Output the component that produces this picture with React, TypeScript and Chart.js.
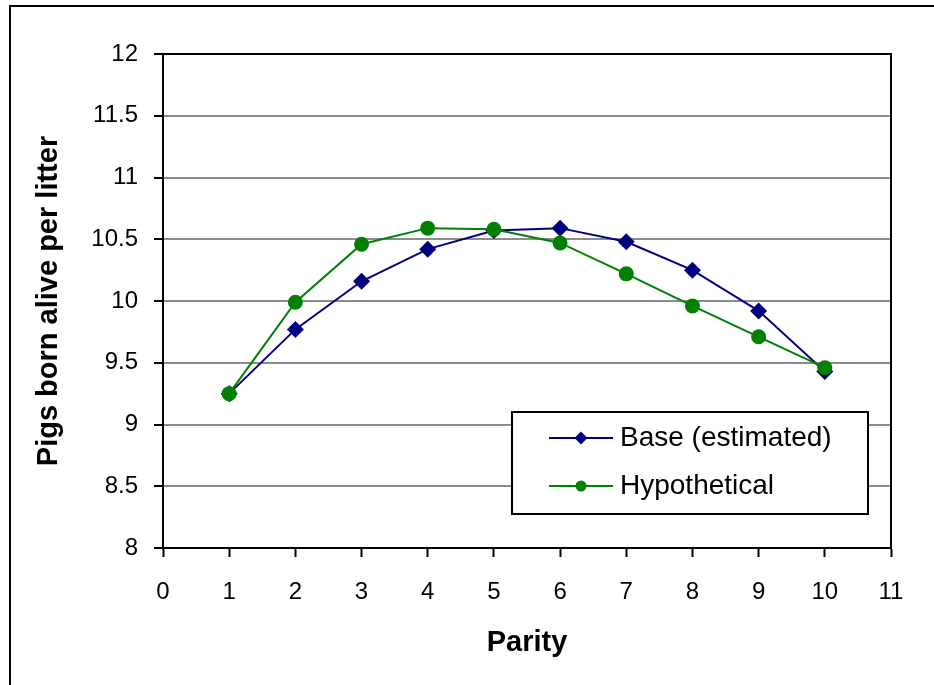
import React, { useEffect, useRef } from "react";
import { Chart, registerables } from "chart.js";

Chart.register(...registerables);

const parity = [1, 2, 3, 4, 5, 6, 7, 8, 9, 10];
const baseEstimated = [9.25, 9.77, 10.16, 10.42, 10.57, 10.59, 10.48, 10.25, 9.92, 9.43];
const hypothetical = [9.25, 9.99, 10.46, 10.59, 10.58, 10.47, 10.22, 9.96, 9.71, 9.46];
const seriesNames = ["Base (estimated)", "Hypothetical"];
const xTitle = "Parity";
const yTitle = "Pigs born alive per litter";

const FONT = "'Liberation Sans', Arial, sans-serif";

const frameAndLegend = {
  id: "frameAndLegend",
  beforeDraw(chart: any) {
    const ctx = chart.ctx;
    ctx.save();
    ctx.fillStyle = "#ffffff";
    ctx.fillRect(0, 0, chart.width, chart.height);
    ctx.strokeStyle = "#000";
    ctx.lineWidth = 2;
    ctx.beginPath();
    ctx.moveTo(10, chart.height + 5);
    ctx.lineTo(10, 6);
    ctx.lineTo(chart.width + 5, 6);
    ctx.stroke();
    ctx.restore();
  },
  beforeDatasetsDraw(chart: any) {
    const ctx = chart.ctx;
    const a = chart.chartArea;
    ctx.save();
    ctx.strokeStyle = "#000";
    ctx.lineWidth = 2;
    ctx.beginPath();
    ctx.moveTo(a.left, a.top);
    ctx.lineTo(a.right, a.top);
    ctx.lineTo(a.right, a.bottom);
    ctx.stroke();
    ctx.restore();
  },
  afterDatasetsDraw(chart: any) {
    const ctx = chart.ctx;
    const a = chart.chartArea;
    const bx = a.left + 349;
    const by = a.top + 358;
    const bw = 356;
    const bh = 102;
    ctx.save();
    ctx.fillStyle = "#fff";
    ctx.fillRect(bx, by, bw, bh);
    ctx.strokeStyle = "#000";
    ctx.lineWidth = 2;
    ctx.strokeRect(bx, by, bw, bh);
    chart.data.datasets.forEach((ds: any, i: number) => {
      const y = by + 26 + i * 48;
      ctx.strokeStyle = ds.borderColor;
      ctx.lineWidth = 2;
      ctx.beginPath();
      ctx.moveTo(bx + 37, y);
      ctx.lineTo(bx + 101, y);
      ctx.stroke();
      ctx.fillStyle = ds.backgroundColor;
      ctx.beginPath();
      const cx = bx + 69;
      if (ds.pointStyle === "rectRot") {
        const r = 6.5;
        ctx.moveTo(cx, y - r);
        ctx.lineTo(cx + r, y);
        ctx.lineTo(cx, y + r);
        ctx.lineTo(cx - r, y);
        ctx.closePath();
      } else {
        ctx.arc(cx, y, 5.5, 0, Math.PI * 2);
      }
      ctx.fill();
      ctx.fillStyle = "#000";
      ctx.font = `28px ${FONT}`;
      ctx.textBaseline = "middle";
      ctx.textAlign = "left";
      ctx.fillText(ds.label, bx + 108, y);
    });
    ctx.restore();
  },
};

export default function App() {
  const ref = useRef<HTMLCanvasElement | null>(null);

  useEffect(() => {
    if (!ref.current) return;
    const chart = new Chart(ref.current, {
      type: "line",
      data: {
        datasets: [
          {
            label: seriesNames[0],
            data: parity.map((p, i) => ({ x: p, y: baseEstimated[i] })),
            borderColor: "#000080",
            backgroundColor: "#000080",
            borderWidth: 2,
            pointStyle: "rectRot",
            pointRadius: 8.5,
            pointBorderWidth: 0,
            order: 1,
          },
          {
            label: seriesNames[1],
            data: parity.map((p, i) => ({ x: p, y: hypothetical[i] })),
            borderColor: "#008000",
            backgroundColor: "#008000",
            borderWidth: 2,
            pointStyle: "circle",
            pointRadius: 7.5,
            pointBorderWidth: 0,
            order: 0,
          },
        ],
      },
      options: {
        animation: false,
        responsive: false,
        maintainAspectRatio: false,
        layout: { padding: { left: 0, top: 54, right: 43, bottom: 0 } },
        plugins: {
          legend: { display: false },
          tooltip: { enabled: false },
        },
        scales: {
          x: {
            type: "linear",
            min: 0,
            max: 11,
            afterFit: (s: any) => {
              s.height = 137;
            },
            ticks: {
              stepSize: 1,
              color: "#000",
              padding: 21,
              font: { family: FONT, size: 24 },
              callback: (v: any) => String(v),
            },
            grid: {
              drawOnChartArea: false,
              drawTicks: true,
              tickLength: 9,
              tickColor: "#000",
              tickWidth: 2,
            },
            border: { color: "#000", width: 2 },
            title: {
              display: true,
              text: xTitle,
              color: "#000",
              font: { family: FONT, size: 29, weight: "bold" },
              padding: { top: 0, bottom: 25 },
            },
          },
          y: {
            min: 8,
            max: 12,
            afterFit: (s: any) => {
              s.width = 163;
            },
            ticks: {
              stepSize: 0.5,
              color: "#000",
              padding: 16,
              font: { family: FONT, size: 24 },
              callback: (v: any) => String(v),
            },
            grid: {
              color: "#8c8c8c",
              lineWidth: 2,
              drawTicks: true,
              tickLength: 9,
              tickColor: "#000",
              tickWidth: 2,
            },
            border: { color: "#000", width: 2 },
            title: {
              display: true,
              text: yTitle,
              color: "#000",
              font: { family: FONT, size: 29, weight: "bold" },
              padding: { top: 32, bottom: 0 },
            },
          },
        },
      },
      plugins: [frameAndLegend],
    } as any);
    return () => chart.destroy();
  }, []);

  return (
    <div style={{ position: "absolute", left: 0, top: 0, width: 934, height: 685 }}>
      <canvas ref={ref} width={934} height={685} style={{ display: "block" }} />
    </div>
  );
}
